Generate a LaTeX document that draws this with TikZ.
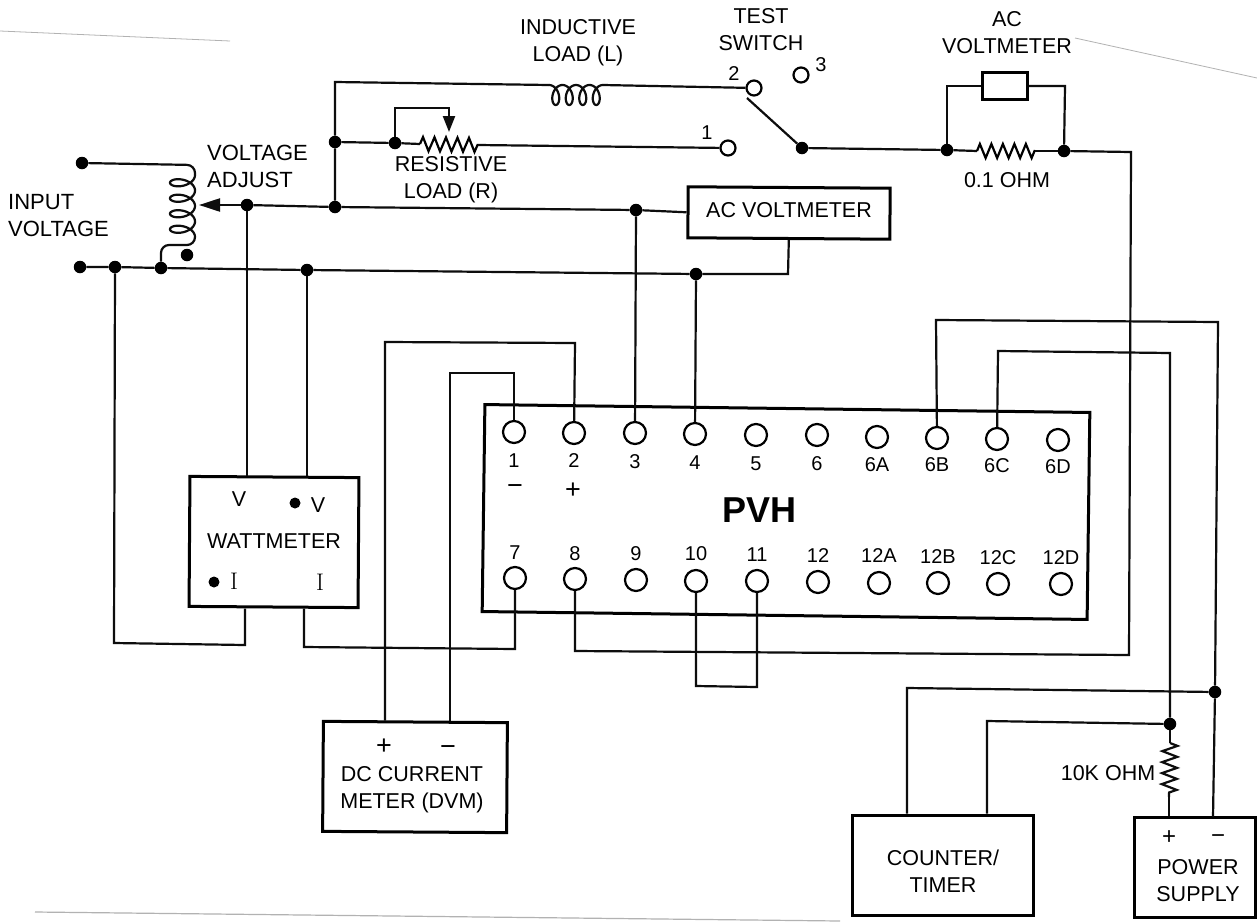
\documentclass[tikz,border=0pt]{standalone}
\usepackage{fontspec}
\setmainfont{Liberation Sans}
\usetikzlibrary{arrows.meta,decorations.pathmorphing}
\tikzset{
  wire/.style={line width=2.2pt,line join=miter,black!95},
  dot/.style={circle,fill=black,inner sep=0pt,minimum size=#1},
  dot/.default=12.5pt,
  pvhterm/.style={circle,draw,line width=2.2pt,fill=white,inner sep=0pt,minimum size=22pt},
  swterm/.style={circle,draw,line width=2.2pt,fill=white,inner sep=0pt,minimum size=15pt},
  box/.style={draw,line width=3pt,inner sep=0pt,fill=white},
  lbl/.style={inner sep=0pt,align=center,font=\fontsize{21.5}{27}\selectfont},
  lbll/.style={inner sep=0pt,align=left,font=\fontsize{22}{27}\selectfont},
  tlbl/.style={inner sep=0pt,font=\fontsize{20}{22}\selectfont},
  sign/.style={inner sep=0pt,font=\fontsize{27}{30}\selectfont},
  serifI/.style={inner sep=0pt,font=\fontfamily{lmr}\fontsize{24}{26}\selectfont},
  res/.style={line width=2.2pt,decorate,decoration={zigzag,segment length=#1,amplitude=7pt}},
  res/.default=11.5pt,
  scan/.style={line width=0.8pt,black!30}
}
\begin{document}
\begin{tikzpicture}[x=1pt,y=-1pt]
\useasboundingbox[fill=white] (0,0) rectangle (1257,921);
% scan edges
\draw[scan] (0,31) -- (230,41);
\draw[scan] (1075,38) -- (1257,78);
\draw[scan,line width=1.2pt] (35,912) -- (840,921);

% boxes
\node[box,minimum width=605pt,minimum height=207pt,rotate=-0.75] (pvh) at (786,512) {};
\node[box,minimum width=202pt,minimum height=51pt,rotate=-0.4] (acv) at (789,213) {};
\node[box,minimum width=45pt,minimum height=27pt] (acm) at (1005,86) {};
\node[box,minimum width=169pt,minimum height=130pt,rotate=-0.4] (watt) at (274,542) {};
\node[box,minimum width=184pt,minimum height=110pt,rotate=-0.4] (dvm) at (415,777) {};
\node[box,minimum width=181pt,minimum height=100pt] (ctr) at (943,865) {};
\node[box,minimum width=121pt,minimum height=100pt] (psu) at (1195,867) {};

% top row terminals
\foreach \n/\x/\y/\t/\ly in {1/514/432/1/461,2/574/433/2/461,3/635/433/3/462,4/695/434/4/463,5/756/435/5/464,6/817/435/6/464,6A/877/437/6A/465,6B/937/438/6B/465,6C/997/439/6C/466,6D/1058/440/6D/467}{
  \node[pvhterm] (t\n) at (\x,\y) {};
  \node[tlbl] (lt\n) at (\x,\ly) {\t};
}
% bottom row terminals
\foreach \n/\x/\y/\t/\ly in {7/515/578/7/553,8/575/579/8/554,9/636/580/9/554,10/696/581/10/554,11/757/581/11/555,12/818/582/12/556,12A/879/583/12A/556,12B/938/583/12B/557,12C/998/584/12C/558,12D/1061/584/12D/558}{
  \node[pvhterm] (t\n) at (\x,\y) {};
  \node[tlbl] (lt\n) at (\x,\ly) {\t};
}

% switch terminals
\node[swterm] (s1) at (728,148) {};
\node[swterm] (s2) at (754,88) {};
\node[swterm] (s3) at (801,75) {};

% junctions
\node[dot] (jtop) at (335,142) {};
\node[dot] (jwip) at (395,143) {};
\node[dot] (jadj) at (335,207) {};
\node[dot] (jwv) at (247,205) {};
\node[dot] (jac3) at (636,210) {};
\node[dot] (jin) at (82,163) {};
\node[dot] (jinb) at (80,267) {};
\node[dot] (jl1) at (115,267) {};
\node[dot] (jl2) at (161,268) {};
\node[dot] (jl3) at (307,270) {};
\node[dot] (jl4) at (696,274) {};
\node[dot] (jsw) at (802,148) {};
\node[dot] (jm1) at (947,150) {};
\node[dot] (jm2) at (1064,151) {};
\node[dot] (jn) at (1215,692) {};
\node[dot] (jp) at (1170,724) {};
\node[dot] (jcoil) at (187,255) {};

% named points
\coordinate (ltop) at (335,82);
\coordinate (lcoilA) at (549,85);
\coordinate (lcoilB) at (603,85);
\coordinate (rA) at (420,144);
\coordinate (rB) at (478,145);
\coordinate (mA) at (977,151);
\coordinate (mB) at (1035,151);
\coordinate (pA) at (1170,743);
\coordinate (pB) at (1169,797);
\coordinate (wip) at (449,132);
\coordinate (bladeEnd) at (747,98);
\coordinate (tap) at (199,205);
\coordinate (cTop) at (195,175);
\coordinate (cBot) at (195,237);

% inductive load branch
\draw[wire] (jadj) -- (jtop) -- (ltop) -- (lcoilA);
\draw[wire] plot[smooth,samples=160,domain=0:1440,variable=\t] ({549+\t/1440*54+6.5*sin(\t)},{95-10*cos(\t)});
\draw[wire] (lcoilB) -- (s2);

% resistive load branch
\draw[wire] (jtop) -- (jwip) -- (rA);
\draw[res] (rA) -- (rB);
\draw[wire] (rB) -- (s1);
\draw[wire] (jwip) -- (395,108) -- (449,108) -- (449,118);
\draw[wire,-{Triangle[length=16pt,width=12pt]}] (449,112) -- (wip);

% switch and meter
\draw[wire] (bladeEnd) -- (jsw) -- (jm1) -- (mA);
\draw[res] (mA) -- (mB);
\draw[wire] (mB) -- (jm2);
\draw[wire] (jm1) -- (947,86) -- (acm.west);
\draw[wire] (acm.east) -- (1065,86) -- (jm2);

% main line to terminal 8
\draw[wire] (jm2) -- (1131,152) -- (1129,655) -- (575,651) -- (t8);

% AC voltmeter and adjust
\draw[wire] (acv.west) -- (jac3) -- (jadj) -- (jwv);
\draw[wire,-{Triangle[length=21pt,width=13pt]}] (jwv) -- (tap);
\draw[wire] (jac3) -- (t3);
\draw[wire] (acv.south) -- (788,274) -- (jl4) -- (jl3) -- (jl2) -- (jl1) -- (jinb);
\draw[wire] (jl4) -- (t4);

% autotransformer
\draw[wire,rounded corners=8pt] (jin) -- (195,165) -- (cTop);
\draw[wire] plot[smooth,samples=160,domain=0:1440,variable=\t] ({182.5+12.5*cos(\t)},{175+\t/1440*62+7*sin(\t)});
\draw[wire,rounded corners=8pt] (cBot) -- (195,245) -- (161,245) -- (jl2);

% wattmeter
\draw[wire] (jwv) -- (jwv |- watt.north);
\draw[wire] (jl3) -- (jl3 |- watt.north);
\coordinate (wi1) at (245,645);
\coordinate (wi2) at (304,647);
\draw[wire] (jl1) -- (114,643) -- (wi1) -- (wi1 |- watt.south);
\draw[wire] (wi2 |- watt.south) -- (wi2) -- (515,649) -- (t7);

% DC current meter
\coordinate (dp) at (385,342);
\coordinate (dm) at (450,373);
\draw[wire] (dp |- dvm.north) -- (dp) -- (575,343) -- (t2);
\draw[wire] (dm |- dvm.north) -- (dm) -- (514,373) -- (t1);

% jumper
\draw[wire] (t10) -- (696,686) -- (757,687) -- (t11);

% power side
\draw[wire] (t6B) -- (936,320) -- (1218,322) -- (jn);
\draw[wire] (jn) -- (1213,817);
\draw[wire] (t6C) -- (998,351) -- (1170,353) -- (jp);
\draw[wire] (jp) -- (pA);
\draw[wire,decorate,decoration={zigzag,segment length=11pt,amplitude=7.5pt}] (pA) -- (pB);
\draw[wire] (pB) -- (1169,816);
\coordinate (cc1) at (907,688);
\coordinate (cc2) at (987,721);
\draw[wire] (jn) -- (cc1) -- (cc1 |- ctr.north);
\draw[wire] (jp) -- (cc2) -- (cc2 |- ctr.north);

% labels
\node[lbl] (lACV) at (789,210) {AC VOLTMETER};
\node[lbl] (lCtr) at (943,871) {COUNTER/\\TIMER};
\node[lbl] (lInd) at (578,43) {INDUCTIVE\\LOAD (L)};
\node[lbl] (lTest) at (761,30) {TEST\\SWITCH};
\node[lbl] (lAC) at (1007,33) {AC\\VOLTMETER};
\node[tlbl] (lS2) at (734,74) {2};
\node[tlbl] (lS3) at (821,65) {3};
\node[tlbl] (lS1) at (707,133) {1};
\node[lbl] (lRes) at (451,180) {RESISTIVE\\LOAD (R)};
\node[lbll,anchor=west] (lVA) at (207,166) {VOLTAGE\\ADJUST};
\node[lbll,anchor=west] (lIn) at (8,216) {INPUT\\VOLTAGE};
\node[lbl] (lOhm) at (1007,180) {0.1 OHM};
\node[lbl] (lK) at (1108,773) {10K OHM};
\node[inner sep=0pt,font=\fontsize{36}{40}\selectfont\bfseries] (lPVH) at (759,510) {PVH};
\node[sign] (lMinus) at (515,490) {\textminus};
\node[sign] (lPlus) at (573,491) {+};
\node[lbl] (lV1) at (239,499) {V};
\node[dot=11pt] (dV) at (295,503) {};
\node[lbl] (lV2) at (318,505) {V};
\node[lbl] (lWatt) at (274,541) {WATTMETER};
\node[dot=11pt] (dI) at (214,582) {};
\node[serifI] (lI1) at (234,581) {I};
\node[serifI] (lI2) at (320,582) {I};
\node[sign] (lDp) at (384,747) {+};
\node[sign] (lDm) at (448,751) {\textminus};
\node[lbl] (lDC) at (412,790) {DC CURRENT\\METER (DVM)};
\node[sign,font=\fontsize{24}{26}\selectfont] (lPp) at (1169,838) {+};
\node[sign,font=\fontsize{24}{26}\selectfont] (lPm) at (1218,839) {\textminus};
\node[lbl] (lPS) at (1198,881) {POWER\\SUPPLY};
\end{tikzpicture}
\end{document}
